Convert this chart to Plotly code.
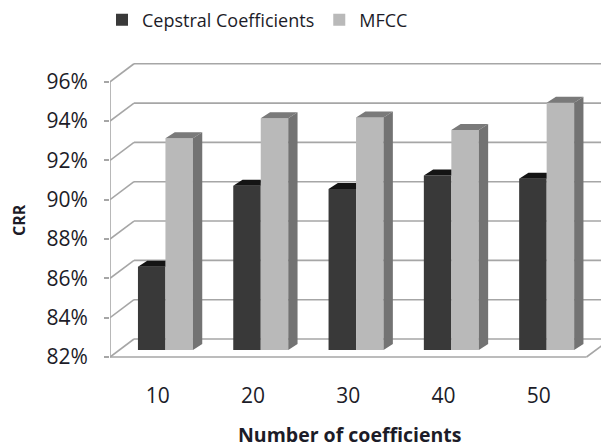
import plotly.graph_objects as go

# ---- data ----
categories = ["10", "20", "30", "40", "50"]
cepstral = [86.24, 90.36, 90.19, 90.87, 90.71]
mfcc = [92.77, 93.79, 93.83, 93.19, 94.58]
series_names = ["Cepstral Coefficients", "MFCC"]
y_ticks = [82, 84, 86, 88, 90, 92, 94, 96]
y_tick_labels = ["82%", "84%", "86%", "88%", "90%", "92%", "94%", "96%"]
x_title = "Number of coefficients"
y_title = "CRR"

# ---- styling / pseudo-3D geometry ----
OFF = 8          # default page body margin
PX_X = 95.3      # px per category slot
PX_Y = 19.66     # px per percentage point
BASE = 82
WALL_DX = 24 / PX_X
WALL_DY = 18 / PX_Y
BAR_W = 27.5 / PX_X
BAR_SHIFT_X = 7.8 / PX_X
BAR_SHIFT_Y = 7 / PX_Y
CAP_DX = 9.3 / PX_X
CAP_DY = 6 / PX_Y

W, H = 609 - OFF, 448 - OFF
L, R, T = 110 - OFF, 0, 55 - OFF
B = H - (375 - OFF)
PW, PH = W - L - R, H - T - B
x_min = -0.5
x_max = x_min + PW / PX_X
y_min = BASE - 18 / PX_Y
y_max = y_min + PH / PX_Y

C_FRONT, C_TOP = "#393939", "#141414"
M_FRONT, M_TOP, M_SIDE = "#b9b9b9", "#7a7a7a", "#737373"
GRID = "#a6a6a6"
FONT = "Open Sans"
TXT = "#1c1c28"


def px_to_paper(px, py):
    """page pixel -> paper coords"""
    return ((px - OFF - L) / PW, (H - B - (py - OFF)) / PH)


idx = list(range(len(categories)))
fig = go.Figure()

fig.add_trace(go.Bar(
    x=idx, y=[v - BASE for v in cepstral], base=BASE + BAR_SHIFT_Y,
    width=BAR_W, offset=BAR_SHIFT_X - BAR_W, name=series_names[0],
    marker=dict(color=C_FRONT, line=dict(width=0))))
fig.add_trace(go.Bar(
    x=idx, y=[v - BASE for v in mfcc], base=BASE + BAR_SHIFT_Y,
    width=BAR_W, offset=BAR_SHIFT_X, name=series_names[1],
    marker=dict(color=M_FRONT, line=dict(width=0))))


def poly_trace(polys, color):
    xs, ys = [], []
    for p in polys:
        for (a, b) in p:
            xs.append(a); ys.append(b)
        xs.append(p[0][0]); ys.append(p[0][1])
        xs.append(None); ys.append(None)
    return go.Scatter(x=xs, y=ys, mode="lines", fill="toself",
                      fillcolor=color, line=dict(width=0, color=color),
                      showlegend=False, hoverinfo="skip")


c_caps, m_caps, m_sides = [], [], []
for i, (c, m) in enumerate(zip(cepstral, mfcc)):
    bot = BASE + BAR_SHIFT_Y
    xl, xr = i + BAR_SHIFT_X - BAR_W, i + BAR_SHIFT_X
    top = c + BAR_SHIFT_Y
    c_caps.append([(xl, top), (xl + CAP_DX, top + CAP_DY), (xr, top + CAP_DY), (xr, top)])
    xl, xr = i + BAR_SHIFT_X, i + BAR_SHIFT_X + BAR_W
    top = m + BAR_SHIFT_Y
    m_caps.append([(xl, top), (xl + CAP_DX, top + CAP_DY), (xr + CAP_DX, top + CAP_DY), (xr, top)])
    m_sides.append([(xr, bot), (xr + CAP_DX, bot + CAP_DY), (xr + CAP_DX, top + CAP_DY), (xr, top)])

fig.add_trace(poly_trace(c_caps, C_TOP))
fig.add_trace(poly_trace(m_caps, M_TOP))
fig.add_trace(poly_trace(m_sides, M_SIDE))

shapes = []
line = dict(color=GRID, width=1.6)
for v in y_ticks:
    shapes.append(dict(type="line", xref="x", yref="y", layer="below",
                       x0=x_min, y0=v, x1=x_min + WALL_DX, y1=v + WALL_DY, line=line))
    shapes.append(dict(type="line", xref="x", yref="y", layer="below",
                       x0=x_min + WALL_DX, y0=v + WALL_DY, x1=x_max, y1=v + WALL_DY, line=line))
shapes.append(dict(type="line", xref="x", yref="y", layer="below",
                   x0=x_min, y0=y_ticks[0], x1=x_min, y1=y_ticks[-1], line=line))
x_end = x_min + len(categories)
shapes.append(dict(type="line", xref="x", yref="y", layer="below",
                   x0=x_min, y0=BASE, x1=x_end, y1=BASE, line=line))
shapes.append(dict(type="line", xref="x", yref="y", layer="below",
                   x0=x_end, y0=BASE, x1=x_end + WALL_DX, y1=BASE + WALL_DY, line=line))

leg_x, leg_y = px_to_paper(102, 20)
xt_x, xt_y = px_to_paper(349, 434)
yt_x, yt_y = px_to_paper(19, 220)

fig.update_layout(
    width=W, height=H,
    margin=dict(l=L, r=R, t=T, b=B, autoexpand=False),
    paper_bgcolor="white", plot_bgcolor="white",
    barmode="overlay",
    shapes=shapes,
    font=dict(family=FONT, color=TXT),
    showlegend=True,
    legend=dict(orientation="h", x=leg_x, xanchor="left", y=leg_y, yanchor="middle",
                font=dict(family=FONT, size=18, color=TXT), traceorder="normal",
                itemwidth=30, borderwidth=0, bgcolor="rgba(0,0,0,0)"),
    xaxis=dict(range=[x_min, x_max], tickvals=idx, ticktext=categories,
               showgrid=False, zeroline=False, showline=False, ticks="",
               automargin=False,
               tickfont=dict(family=FONT, size=21, color=TXT),
               ticklabelstandoff=6),
    yaxis=dict(range=[y_min, y_max], tickvals=y_ticks, ticktext=y_tick_labels,
               showgrid=False, zeroline=False, showline=False,
               automargin=False,
               ticks="outside", ticklen=5, tickcolor=GRID, tickwidth=1.5,
               tickfont=dict(family=FONT, size=21, color=TXT),
               ticklabelstandoff=12),
    annotations=[
        dict(text=x_title, xref="paper", yref="paper", x=xt_x, y=xt_y,
             xanchor="center", yanchor="middle", showarrow=False,
             font=dict(family=FONT, size=19.5, color=TXT, weight="bold")),
        dict(text=y_title, xref="paper", yref="paper", x=yt_x, y=yt_y,
             xanchor="center", yanchor="middle", textangle=-90, showarrow=False,
             font=dict(family=FONT, size=16, color=TXT, weight="bold")),
    ],
)

fig.write_html("out.html")
